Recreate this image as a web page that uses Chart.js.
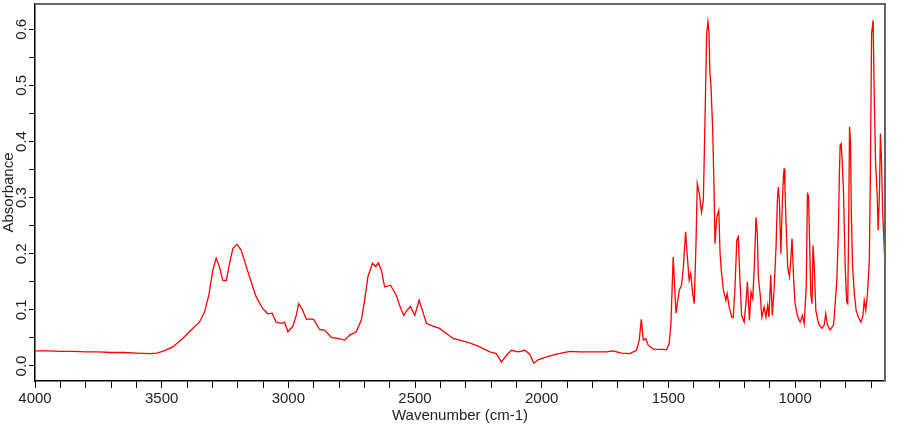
<!DOCTYPE html>
<html>
<head>
<meta charset="utf-8">
<script src="https://cdn.jsdelivr.net/npm/chart.js@4.4.1/dist/chart.umd.min.js"></script>
<style>
  html, body { margin: 0; padding: 0; background: #fff; }
</style>
</head>
<body>
<canvas id="spectrum" width="910" height="425"></canvas>
<script>
// IR spectrum, values
const wavenumbers = [
  4000, 3950, 3900, 3850, 3800, 3750, 3700, 3650, 3600, 3548, 3520, 3496, 3456, 3417, 3384, 3351,
  3331, 3314, 3298, 3285, 3272, 3259, 3245, 3232, 3219, 3203, 3186, 3166, 3147, 3127, 3101, 3081,
  3064, 3048, 3028, 3015, 3002, 2982, 2969, 2959, 2945, 2929, 2916, 2900, 2877, 2857, 2830, 2804,
  2778, 2758, 2732, 2712, 2699, 2686, 2668, 2655, 2645, 2633, 2620, 2597, 2574, 2561, 2545, 2532,
  2518, 2501, 2484, 2471, 2455, 2429, 2403, 2376, 2350, 2324, 2284, 2245, 2205, 2179, 2159, 2139,
  2119, 2093, 2067, 2047, 2031, 2014, 1981, 1942, 1889, 1850, 1744, 1718, 1685, 1652, 1626, 1615,
  1607, 1599, 1589, 1580, 1560, 1507, 1497, 1490, 1481, 1470, 1457, 1448, 1441, 1432, 1426, 1418,
  1412, 1404, 1398, 1391, 1386, 1378, 1369, 1362, 1356, 1349, 1344, 1340, 1336, 1332, 1325, 1320,
  1316, 1309, 1301, 1296, 1290, 1283, 1273, 1268, 1260, 1250, 1244, 1237, 1230, 1224, 1217, 1211,
  1201, 1194, 1188, 1180, 1174, 1167, 1161, 1154, 1149, 1145, 1138, 1131, 1122, 1115, 1108, 1103,
  1096, 1090, 1083, 1075, 1070, 1066, 1062, 1056, 1050, 1046, 1043, 1040, 1036, 1029, 1022, 1017,
  1012, 1006, 1000, 991, 980, 971, 964, 956, 951, 947, 943, 938, 933, 929, 924, 918,
  907, 894, 885, 879, 872, 862, 848, 835, 829, 825, 822, 818, 814, 809, 802, 796,
  792, 788, 785, 781, 778, 773, 766, 759, 749, 740, 732, 727, 721, 714, 707, 703,
  698, 692, 687, 682, 676, 672, 667, 663, 659, 654, 647, 645
];
const absorbance = [
  0.027, 0.027, 0.026, 0.026, 0.025, 0.025, 0.024, 0.024, 0.023, 0.022, 0.023, 0.026, 0.034, 0.049, 0.064, 0.078,
  0.096, 0.126, 0.171, 0.192, 0.177, 0.153, 0.152, 0.183, 0.209, 0.217, 0.206, 0.177, 0.150, 0.123, 0.102, 0.093,
  0.094, 0.078, 0.076, 0.078, 0.061, 0.071, 0.090, 0.111, 0.101, 0.083, 0.084, 0.083, 0.065, 0.064, 0.051, 0.049,
  0.046, 0.055, 0.061, 0.082, 0.117, 0.159, 0.183, 0.177, 0.184, 0.171, 0.141, 0.144, 0.126, 0.108, 0.090, 0.099,
  0.106, 0.090, 0.117, 0.099, 0.076, 0.071, 0.067, 0.058, 0.049, 0.046, 0.041, 0.034, 0.025, 0.022, 0.007, 0.019,
  0.028, 0.025, 0.028, 0.021, 0.005, 0.011, 0.016, 0.021, 0.026, 0.025, 0.025, 0.027, 0.023, 0.022, 0.028, 0.046,
  0.083, 0.046, 0.049, 0.037, 0.030, 0.029, 0.040, 0.075, 0.194, 0.094, 0.135, 0.144, 0.176, 0.239, 0.200, 0.153,
  0.165, 0.129, 0.111, 0.218, 0.325, 0.307, 0.274, 0.295, 0.426, 0.592, 0.613, 0.595, 0.521, 0.500, 0.420, 0.319,
  0.218, 0.265, 0.277, 0.200, 0.165, 0.135, 0.117, 0.129, 0.105, 0.087, 0.086, 0.141, 0.224, 0.230, 0.147, 0.090,
  0.078, 0.111, 0.150, 0.081, 0.132, 0.120, 0.176, 0.265, 0.236, 0.159, 0.129, 0.087, 0.105, 0.087, 0.108, 0.087,
  0.162, 0.090, 0.135, 0.212, 0.295, 0.319, 0.295, 0.200, 0.295, 0.337, 0.352, 0.319, 0.260, 0.176, 0.159, 0.188,
  0.227, 0.159, 0.111, 0.090, 0.078, 0.090, 0.075, 0.141, 0.307, 0.304, 0.230, 0.129, 0.111, 0.215, 0.176, 0.099,
  0.075, 0.067, 0.073, 0.093, 0.073, 0.064, 0.073, 0.153, 0.242, 0.343, 0.393, 0.396, 0.367, 0.313, 0.176, 0.114,
  0.111, 0.271, 0.426, 0.396, 0.277, 0.176, 0.129, 0.099, 0.086, 0.078, 0.090, 0.117, 0.099, 0.129, 0.188, 0.325,
  0.592, 0.616, 0.467, 0.360, 0.307, 0.242, 0.307, 0.414, 0.367, 0.271, 0.200, 0.176
];

// axis ticks (minor every 100 / 0.05, labelled every 500 / 0.1)
const xTickValues = [700, 800, 900, 1000, 1100, 1200, 1300, 1400, 1500, 1600, 1700, 1800, 1900, 2000,
  2100, 2200, 2300, 2400, 2500, 2600, 2700, 2800, 2900, 3000, 3100, 3200, 3300, 3400, 3500,
  3600, 3700, 3800, 3900, 4000];
const xTickLabels = [1000, 1500, 2000, 2500, 3000, 3500, 4000];
const yTickValues = [0, 0.05, 0.1, 0.15, 0.2, 0.25, 0.3, 0.35, 0.4, 0.45, 0.5, 0.55, 0.6];
const yTickLabels = ['0.0', '0.1', '0.2', '0.3', '0.4', '0.5', '0.6'];

const font = { family: "'Liberation Sans', Arial, sans-serif", size: 15 };
const textColor = '#222';

// gray top and right edges of the frame
const frame = {
  id: 'frame',
  afterDraw(chart) {
    const { ctx, chartArea: a } = chart;
    ctx.save();
    ctx.strokeStyle = '#666';
    ctx.lineWidth = 2;
    ctx.beginPath();
    ctx.moveTo(a.left, a.top);
    ctx.lineTo(a.right, a.top);
    ctx.lineTo(a.right, a.bottom);
    ctx.stroke();
    ctx.restore();
  }
};

const ctx = document.getElementById('spectrum').getContext('2d');
new Chart(ctx, {
  type: 'line',
  data: {
    datasets: [{
      data: wavenumbers.map((w, i) => ({ x: w, y: absorbance[i] })),
      borderColor: '#ff0000',
      borderWidth: 1.3,
      pointRadius: 0,
      tension: 0,
      fill: false
    }]
  },
  options: {
    responsive: false,
    animation: false,
    devicePixelRatio: 1,
    layout: { padding: { left: 0, right: 25, top: 4, bottom: 0 } },
    plugins: { legend: { display: false }, tooltip: { enabled: false } },
    scales: {
      x: {
        type: 'linear',
        reverse: true,
        min: 645,
        max: 4000,
        afterBuildTicks: (scale) => { scale.ticks = xTickValues.map(v => ({ value: v })); },
        afterFit: (scale) => {
          scale.height = 44;
          scale.paddingLeft = 0; scale.paddingRight = 0;
        },
        grid: { drawOnChartArea: false, drawTicks: true, tickLength: 7, color: '#000' },
        border: { display: true, color: '#000', width: 1.5 },
        ticks: {
          padding: 2,
          maxRotation: 0,
          autoSkip: false,
          color: textColor,
          font: font,
          callback: (v) => xTickLabels.includes(v) ? String(v) : ''
        },
        title: {
          display: true,
          text: 'Wavenumber (cm-1)',
          color: textColor,
          font: font,
          padding: { top: 0, bottom: 0 }
        }
      },
      y: {
        type: 'linear',
        min: -0.0268,
        max: 0.645,
        afterBuildTicks: (scale) => { scale.ticks = yTickValues.map(v => ({ value: v })); },
        afterFit: (scale) => {
          scale.width = 35;
          scale.paddingTop = 0; scale.paddingBottom = 0;
        },
        grid: { drawOnChartArea: false, drawTicks: true, tickLength: 6, color: '#000' },
        border: { display: true, color: '#000', width: 1.5 },
        ticks: {
          minRotation: 90,
          maxRotation: 90,
          crossAlign: 'center',
          padding: -3,
          autoSkip: false,
          color: textColor,
          font: font,
          callback: (v) => {
            const s = v.toFixed(1);
            return (Math.abs(v * 10 - Math.round(v * 10)) < 1e-6 && yTickLabels.includes(s)) ? s : '';
          }
        },
        title: {
          display: true,
          text: 'Absorbance',
          color: textColor,
          font: font,
          padding: { top: 0, bottom: 0 }
        }
      }
    }
  },
  plugins: [frame]
});
</script>
</body>
</html>
